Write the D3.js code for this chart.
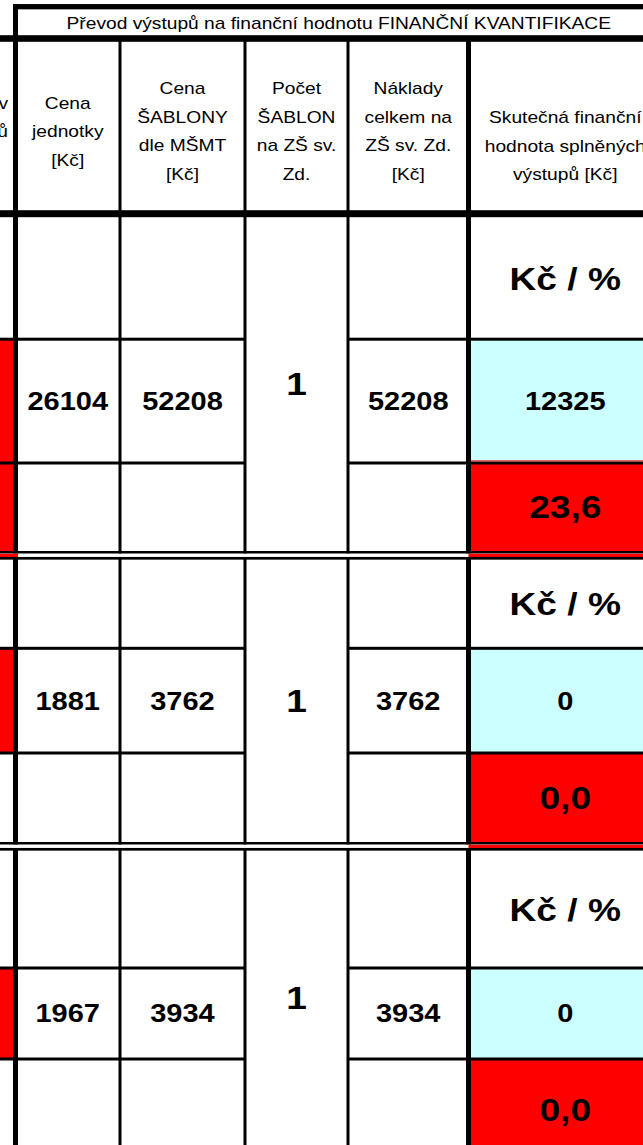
<!DOCTYPE html>
<html>
<head>
<meta charset="utf-8">
<script src="https://cdn.jsdelivr.net/npm/d3@7"></script>
<style>
html, body { margin: 0; padding: 0; background: #fff; }
svg { display: block; }
text { font-family: "Liberation Sans", Arial, sans-serif; fill: #000; }
</style>
</head>
<body>
<svg width="643" height="1145"></svg>
<script>
var svg = d3.select('svg');

// ---- data ----
var titleText = 'Převod výstupů na finanční hodnotu FINANČNÍ KVANTIFIKACE';
var headerLabels = [
    ['Cena', 'jednotky', '[Kč]'],
    ['Cena', 'ŠABLONY', 'dle MŠMT', '[Kč]'],
    ['Počet', 'ŠABLON', 'na ZŠ sv.', 'Zd.'],
    ['Náklady', 'celkem na', 'ZŠ sv. Zd.', '[Kč]'],
    ['Skutečná finanční', 'hodnota splněných', 'výstupů [Kč]']
];
var stubLabels = ['v', 'ů'];   // end of the cut-off column on the left
var unitPrice = [26104, 1881, 1967];
var templatePrice = [52208, 3762, 3934];
var templateCount = [1, 1, 1];
var totalCost = [52208, 3762, 3934];
var actualValue = [12325, 0, 0];
var actualPercent = [23.6, 0.0, 0.0];
var unitLabel = 'Kč / %';

// ---- layout ----
var colKeys = ['stub', 'unit', 'template', 'count', 'total', 'actual', 'end'];
var x = d3.scaleOrdinal().domain(colKeys).range([-40, 15.5, 120, 245, 348, 468.5, 662]);

var rowKeys = ['top', 'ab', 'bc', 'end'];
var sectionY = [
    d3.scaleOrdinal().domain(rowKeys).range([217, 339.2, 463, 551]),
    d3.scaleOrdinal().domain(rowKeys).range([559.5, 648.3, 753, 842]),
    d3.scaleOrdinal().domain(rowKeys).range([850.5, 968, 1059, 1170])
];
var RED = '#ff0000', CYAN = '#ccffff';

// the sheet is drawn a bit wider than tall, so text gets stretched sideways
function label(g, str, cx, cy, size, weight, anchor) {
    var sx = weight === 'bold' ? 1.16 : 1.2;
    g.append('text')
        .attr('transform', 'translate(' + cx + ',' + (cy + size * 0.358) + ') scale(' + sx + ',1)')
        .attr('text-anchor', anchor || 'middle')
        .attr('font-size', size)
        .attr('font-weight', weight || 'normal')
        .text(str);
}
function mid(a, b) { return (x(a) + x(b)) / 2; }

var fills = svg.append('g');
var lines = svg.append('g');
var texts = svg.append('g');

// ---- cell fills ----
sectionY.forEach(function (y, i) {
    fills.append('rect').attr('x', 0).attr('y', y('ab')).attr('width', 14)
        .attr('height', y('bc') - y('ab')).attr('fill', RED);
    if (i === 0) {
        fills.append('rect').attr('x', 0).attr('y', y('bc')).attr('width', 14)
            .attr('height', y('end') - y('bc')).attr('fill', RED);
    }
    fills.append('rect').attr('x', x('actual')).attr('y', y('ab'))
        .attr('width', x('end') - x('actual')).attr('height', y('bc') - y('ab')).attr('fill', CYAN);
    fills.append('rect').attr('x', x('actual')).attr('y', y('bc'))
        .attr('width', x('end') - x('actual')).attr('height', y('end') - y('bc')).attr('fill', RED);
});

// ---- grid lines ----
function hline(y, w, x1, x2) {
    lines.append('rect').attr('x', x1).attr('y', y - w / 2).attr('width', x2 - x1).attr('height', w).attr('fill', '#000');
}
function vline(xp, w, y1, y2) {
    lines.append('rect').attr('x', xp - w / 2).attr('y', y1).attr('width', w).attr('height', y2 - y1).attr('fill', '#000');
}
vline(x('unit'), 5, 4, 1145);
['template', 'count', 'total'].forEach(function (k) { vline(x(k), 3, 40, 1145); });
vline(x('actual'), 5, 40, 1145);
hline(6.7, 5.3, 13, 643);
hline(38.5, 6.6, 0, 643);
hline(213.7, 7, 0, 643);

sectionY.forEach(function (y, i) {
    ['ab', 'bc'].forEach(function (k) {
        hline(y(k), 3, 0, x('count'));
        hline(y(k), 3, x('total'), 643);
    });
    if (i < 2) {
        var a = y('end');
        hline(a + 1.35, 2.7, 0, 643);
        lines.append('rect').attr('x', 0).attr('y', a + 2.7).attr('width', 643).attr('height', 3.4).attr('fill', '#fff');
        if (i === 0) lines.append('rect').attr('x', 0).attr('y', a + 2.7).attr('width', 18).attr('height', 3.4).attr('fill', RED);
        lines.append('rect').attr('x', x('actual')).attr('y', a + 2.7).attr('width', 643).attr('height', 3.4).attr('fill', RED);
        hline(a + 7.3, 2.7, 0, 643);
    }
});
// thin red edge under the cyan cell of the first block
lines.append('rect').attr('x', x('actual') + 2.5).attr('y', sectionY[0]('bc') - 2.6)
    .attr('width', 643).attr('height', 1).attr('fill', RED);

// ---- header text ----
label(texts, titleText, (x('unit') + x('end')) / 2, 22.8, 16);

var lineGap = 28.5;
var headerCols = ['unit', 'template', 'count', 'total', 'actual'];
headerLabels.forEach(function (lbl, c) {
    var cx = mid(headerCols[c], colKeys[colKeys.indexOf(headerCols[c]) + 1]);
    var cy = c === 4 ? 145.8 : 131.5;
    lbl.forEach(function (s, j) {
        label(texts, s, cx, cy + (j - (lbl.length - 1) / 2) * lineGap, 16);
    });
});
stubLabels.forEach(function (s, j) {
    label(texts, s, 8, 103 + j * lineGap, 16, 'normal', 'end');
});

// ---- values ----
var fmtPct = function (v) { return d3.format('.1f')(v).replace('.', ','); };
sectionY.forEach(function (y, i) {
    var cA = (y('top') + y('ab')) / 2, cB = (y('ab') + y('bc')) / 2;
    var cC = i === 2 ? (y('bc') + 1160) / 2 : (y('bc') + y('end')) / 2;
    label(texts, unitLabel, mid('actual', 'end'), cA, 32, 'bold');
    label(texts, unitPrice[i], mid('unit', 'template'), cB, 25, 'bold');
    label(texts, templatePrice[i], mid('template', 'count'), cB, 25, 'bold');
    label(texts, totalCost[i], mid('total', 'actual'), cB, 25, 'bold');
    label(texts, actualValue[i], mid('actual', 'end'), cB, 25, 'bold');
    label(texts, templateCount[i], mid('count', 'total'), (y('top') + Math.min(y('end'), 1145)) / 2, 32, 'bold');
    label(texts, fmtPct(actualPercent[i]), mid('actual', 'end'), cC, 32, 'bold');
});
</script>
</body>
</html>
